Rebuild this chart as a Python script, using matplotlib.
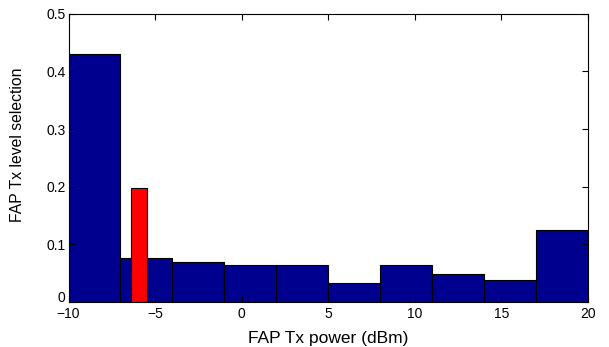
import matplotlib
matplotlib.use('Agg')
import matplotlib.pyplot as plt
import matplotlib.transforms as mtransforms
import numpy as np

plt.rcParams['font.family'] = ['Liberation Sans', 'DejaVu Sans']

# histogram bins (dBm) and normalized counts
bin_edges = [-10, -7, -4, -1, 2, 5, 8, 11, 14, 17, 20]
bin_heights = [0.43, 0.076, 0.069, 0.064, 0.064, 0.032, 0.064, 0.048, 0.038, 0.125]

# highlighted level
red_center = -5.92
red_width = 0.95
red_height = 0.197

fig = plt.figure(figsize=(6.09, 3.47), dpi=100)
ax = fig.add_axes([0.1125, 0.13, 0.853, 0.83])

lefts = np.array(bin_edges[:-1])
widths = np.diff(bin_edges)
ax.bar(lefts, bin_heights, width=widths, align='edge',
       color='#00008f', edgecolor='black', linewidth=0.8)
ax.bar([red_center], [red_height], width=red_width,
       color='#ff0000', edgecolor='black', linewidth=0.8)

ax.set_xlim(-10, 20)
ax.set_ylim(0, 0.5)
ax.set_xticks([-10, -5, 0, 5, 10, 15, 20])
ax.set_yticks([0, 0.1, 0.2, 0.3, 0.4, 0.5])
ax.set_yticklabels(['0', '0.1', '0.2', '0.3', '0.4', '0.5'])
ax.tick_params(direction='in', top=True, right=True, labelsize=10, length=4, pad=2)
ax.tick_params(axis='x', pad=4)
ax.set_xlabel('FAP Tx power (dBm)', fontsize=12.5, labelpad=7)
ax.set_ylabel('FAP Tx level selection', fontsize=11.3)
ax.yaxis.set_label_coords(-0.083, 0.545)

# raise the "0" a little so it clears the "-10" below it
lbl0 = ax.get_yticklabels()[0]
lbl0.set_transform(lbl0.get_transform() +
                   mtransforms.ScaledTranslation(0, 4 / 72, fig.dpi_scale_trans))

plt.savefig('out.png', dpi=100)
